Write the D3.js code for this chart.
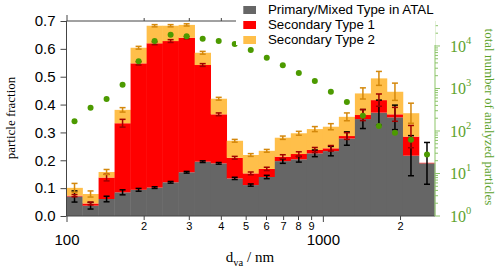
<!DOCTYPE html>
<html>
<head>
<meta charset="utf-8">
<script src="https://cdn.jsdelivr.net/npm/d3@7"></script>
<style>
  body { margin: 0; background: #fff; }
  svg { display: block; }
</style>
</head>
<body>
<div id="chart"></div>
<script>
// size bins (nm), 16 per decade
const binEdges = [100, 115.5, 133.4, 154.0, 177.8, 205.4, 237.1, 273.8, 316.2, 365.2, 421.7, 487.0,
  562.3, 649.4, 749.9, 866.0, 1000, 1154.8, 1333.5, 1539.9, 1778.3, 2053.5, 2371.4, 2738.4];

// particle fractions per bin
const primary    = [0.070, 0.037, 0.061, 0.085, 0.094, 0.102, 0.121, 0.157, 0.195, 0.189, 0.135, 0.111,
  0.140, 0.197, 0.2035, 0.225, 0.233, 0.278, 0.348, 0.371, 0.354, 0.2165, 0.189];
const secondary1 = [0.003, 0.008, 0.077, 0.248, 0.454, 0.518, 0.507, 0.483, 0.347, 0.176, 0.074, 0.042,
  0.029, 0.016, 0.019, 0.012, 0.010, 0.009, 0.0145, 0.045, 0.011, 0.0685, 0.002];
const secondary2 = [0.028, 0.034, 0.020, 0.048, 0.056, 0.063, 0.055, 0.046, 0.044, 0.056, 0.061, 0.066,
  0.065, 0.068, 0.0745, 0.075, 0.0775, 0.069, 0.0775, 0.078, 0.081, 0.084, 0];

// error bars
const errPrimary = [0.02, 0.012, 0.01, 0.009, 0.005, 0.003, 0.003, 0.003, 0.003, 0.003, 0.004, 0.004,
  0.006, 0.008, 0.01, 0.012, 0.017, 0.024, 0.034, 0.045, 0.044, 0.072, 0.075];
const errSec1 = [0.004, 0.005, 0.012, 0.014, 0.006, 0.005, 0.005, 0.004, 0.005, 0.005, 0.005, 0.005,
  0.006, 0.007, 0.008, 0.009, 0.01, 0.012, 0.02, 0.022, 0.025, 0.04, 0];
const errSec2 = [0.016, 0.011, 0.009, 0.008, 0.005, 0.004, 0.004, 0.004, 0.005, 0.005, 0.005, 0.005,
  0.005, 0.006, 0.007, 0.009, 0.011, 0.014, 0.02, 0.025, 0.031, 0.036, 0];

// total number of analyzed particles (right axis)
const totalParticles = [169, 353, 566, 1230, 4370, 13100, 18450, 16900, 14850, 13100, 11150, 8050,
  5300, 3515, 2315, 1500, 841, 481, 229, 131, 91, 62, 28];

const yTicks = [0, 0.1, 0.2, 0.3, 0.4, 0.5, 0.6, 0.7];
const xMajorTicks = [100, 1000];
const xMinorTicks = [200, 300, 400, 500, 600, 700, 800, 900, 2000];
const rightMajorTicks = [1, 10, 100, 1000, 10000];

const seriesNames = ["Primary/Mixed Type in ATAL", "Secondary Type 1", "Secondary Type 2"];
const seriesColors = ["#666666", "#ff0000", "#ffbf4a"];
const errColors = ["#000000", "#a00000", "#d4880c"];
const green = "#4c9a00";
const greenText = "#5ca22c";
const axisColor = "#444";

const W = 500, H = 270;
const m = {left: 66.5, right: 435, top: 21, bottom: 216};

const svg = d3.select("#chart").append("svg")
  .attr("width", W)
  .attr("height", H)
  .style("font-family", "'Liberation Serif', 'Times New Roman', serif");

const x = d3.scaleLog().domain([binEdges[0], binEdges[binEdges.length - 1]]).range([m.left, m.right]);
const y = d3.scaleLinear().domain([0, 0.7]).range([m.bottom, m.top]);
const yR = d3.scaleLog().domain([1, 38700]).range([m.bottom, m.top]);

// stack the three series
const rows = primary.map((p, i) => ({
  i: i, x0: binEdges[i], x1: binEdges[i + 1],
  vals: [p, secondary1[i], secondary2[i]],
  errs: [errPrimary[i], errSec1[i], errSec2[i]]
}));
rows.forEach(r => {
  let acc = 0;
  r.segs = r.vals.map((v, k) => {
    const s = {k: k, y0: acc, y1: acc + v};
    acc += v;
    return s;
  });
});

// bars
const barG = svg.append("g");
rows.forEach(r => {
  r.segs.forEach(s => {
    if (s.y1 - s.y0 <= 0) return;
    barG.append("rect")
      .attr("x", x(r.x0))
      .attr("width", x(r.x1) - x(r.x0) + 0.3)
      .attr("y", y(s.y1))
      .attr("height", y(s.y0) - y(s.y1))
      .attr("fill", seriesColors[s.k]);
  });
});

// error bars at segment tops
const errG = svg.append("g");
rows.forEach(r => {
  const cx = x(Math.sqrt(r.x0 * r.x1));
  r.segs.forEach(s => {
    const e = r.errs[s.k];
    if (!e) return;
    const yt = y(s.y1 + e), yb = y(s.y1 - e);
    const c = errColors[s.k];
    errG.append("line").attr("x1", cx).attr("x2", cx).attr("y1", yt).attr("y2", yb)
      .attr("stroke", c).attr("stroke-width", 1.5);
    [yt, yb].forEach(yy => {
      errG.append("line").attr("x1", cx - 3).attr("x2", cx + 3).attr("y1", yy).attr("y2", yy)
        .attr("stroke", c).attr("stroke-width", 1.5);
    });
  });
});

// left axis
const yAxis = svg.append("g")
  .attr("transform", `translate(${m.left},0)`)
  .call(d3.axisLeft(y).tickValues(yTicks).tickFormat(d3.format(".1f")).tickSize(6).tickPadding(5));
yAxis.selectAll("text").style("font-size", "15px").attr("fill", "#000");

// bottom axis: minor and major ticks
const xMinor = svg.append("g")
  .attr("transform", `translate(0,${m.bottom})`)
  .call(d3.axisBottom(x).tickValues(xMinorTicks).tickFormat(d => String(d).replace(/0+$/, "")).tickSize(4).tickPadding(2));
xMinor.selectAll("text").style("font-size", "11px").attr("fill", "#000");
const xMajor = svg.append("g")
  .attr("transform", `translate(0,${m.bottom})`)
  .call(d3.axisBottom(x).tickValues(xMajorTicks).tickFormat(d3.format("d")).tickSize(6).tickPadding(12.4));
xMajor.selectAll("text").style("font-size", "15px").attr("fill", "#000");
xMajor.select(".domain").remove();

// top axis
const xTop = svg.append("g")
  .attr("transform", `translate(0,${m.top})`)
  .call(d3.axisTop(x).tickValues(xMinorTicks).tickFormat("").tickSize(3));
const xTopMajor = svg.append("g")
  .attr("transform", `translate(0,${m.top})`)
  .call(d3.axisTop(x).tickValues(xMajorTicks).tickFormat("").tickSize(6));
xTopMajor.select(".domain").remove();

[yAxis, xMinor, xMajor, xTop, xTopMajor].forEach(g => {
  g.selectAll("path, line").attr("stroke", axisColor);
});
yAxis.select(".domain").attr("d", `M0,${m.top}V${m.bottom}`);
xMinor.select(".domain").attr("d", `M${m.left},0H${m.right}`);
xTop.select(".domain").attr("d", `M${m.left},0H${m.right}`);

// right axis (log)
const rAxis = svg.append("g").attr("transform", `translate(${m.right},0)`);
rAxis.append("line").attr("x1", 0).attr("x2", 0).attr("y1", m.top).attr("y2", m.bottom)
  .attr("stroke", "#9fcf80").attr("stroke-width", 1.2);
yR.ticks().forEach(t => {
  const major = rightMajorTicks.includes(t);
  rAxis.append("line").attr("x1", 0).attr("x2", major ? 5 : 3)
    .attr("y1", yR(t)).attr("y2", yR(t))
    .attr("stroke", "#8cc36a").attr("stroke-width", 1);
});
rightMajorTicks.forEach(t => {
  const txt = rAxis.append("text")
    .attr("x", 15).attr("y", yR(t) + 6)
    .attr("fill", greenText)
    .style("font-size", "16px")
    .text("10");
  txt.append("tspan").attr("dy", -8).style("font-size", "10.5px").text(Math.round(Math.log10(t)));
});

// green dots
svg.append("g").selectAll("circle")
  .data(totalParticles)
  .enter().append("circle")
  .attr("cx", (d, i) => x(Math.sqrt(binEdges[i] * binEdges[i + 1])))
  .attr("cy", d => yR(d))
  .attr("r", 3)
  .attr("fill", green);

// legend
const leg = svg.append("g");
leg.append("rect").attr("x", 236).attr("y", 0).attr("width", 199.5).attr("height", 45).attr("fill", "#fff");
seriesNames.forEach((name, k) => {
  leg.append("rect").attr("x", 243.3).attr("y", 6 + k * 15).attr("width", 12.7).attr("height", 8)
    .attr("fill", seriesColors[k]);
  leg.append("text").attr("x", 268).attr("y", 14 + k * 15)
    .style("font-family", "'Liberation Sans', Arial, sans-serif")
    .style("font-size", "13.3px")
    .attr("fill", "#000")
    .text(name);
});

// axis titles
svg.append("text")
  .attr("transform", `translate(15,118) rotate(-90)`)
  .attr("text-anchor", "middle")
  .style("font-size", "13px")
  .text("particle fraction");

svg.append("text")
  .attr("transform", `translate(485,117) rotate(90)`)
  .attr("text-anchor", "middle")
  .attr("fill", greenText)
  .style("font-size", "13px")
  .text("total number of analyzed particles");

const xt = svg.append("text")
  .attr("x", 250).attr("y", 261.5)
  .attr("text-anchor", "middle")
  .style("font-size", "15px");
xt.append("tspan").text("d");
xt.append("tspan").attr("dy", 4).style("font-size", "10.5px").text("va");
xt.append("tspan").attr("dy", -4).text(" / nm");
</script>
</body>
</html>
